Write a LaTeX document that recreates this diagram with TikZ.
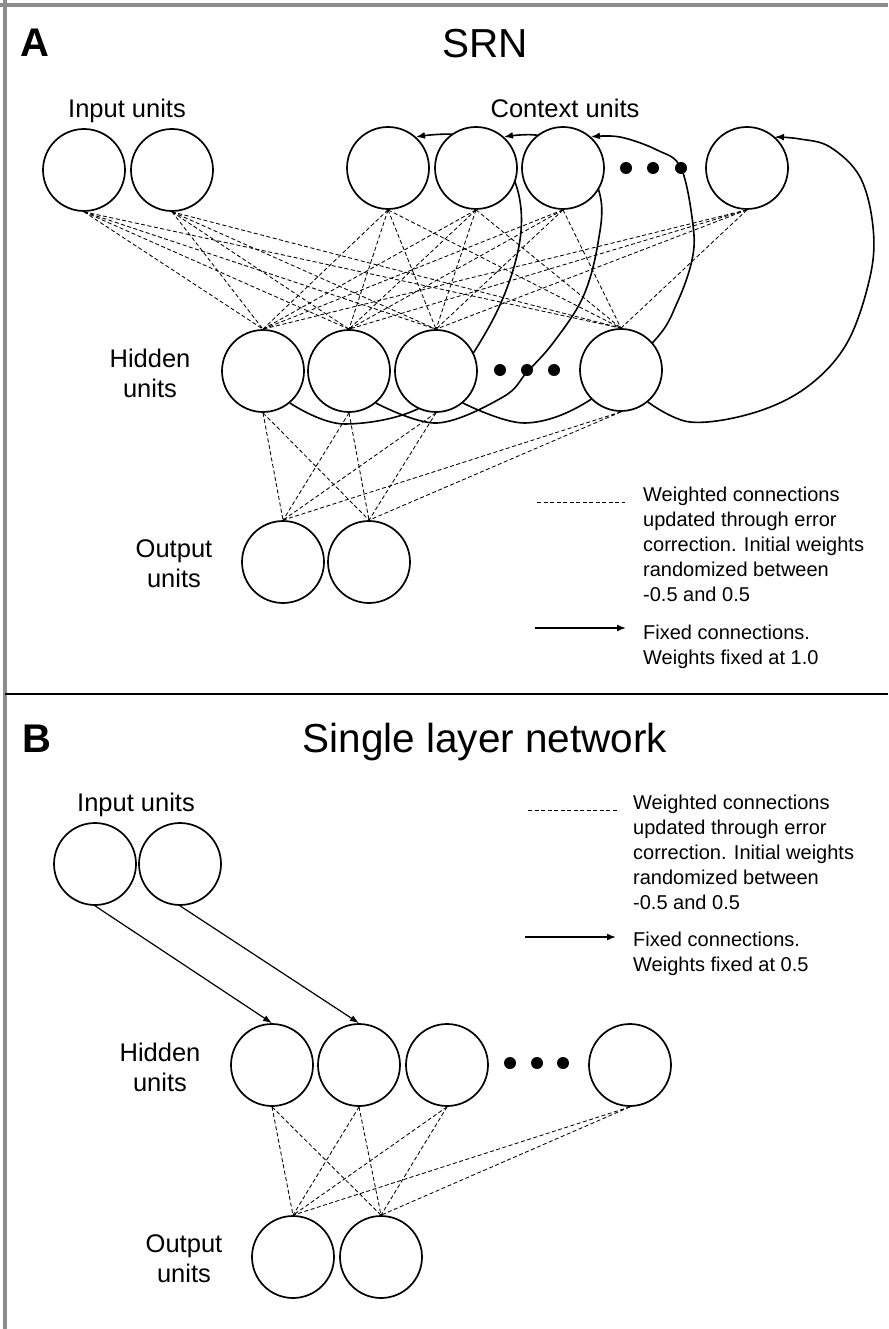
\documentclass[tikz,border=0pt]{standalone}
\usepackage{fontspec}
\setmainfont{Liberation Sans}
\usetikzlibrary{arrows.meta}
\pgfdeclarelayer{bg}
\pgfsetlayers{bg,main}
\begin{document}
\begin{tikzpicture}[x=1pt,y=-1pt,
  unit/.style={circle, draw, line width=1.7pt, minimum size=82pt, inner sep=0pt, fill=white},
  wconn/.style={line width=0.85pt, dash pattern=on 4pt off 2.5pt},
  fixed/.style={line width=1.6pt, -{Latex[length=9pt,width=7pt]}},
  fixedthin/.style={line width=1.2pt, -{Latex[length=9pt,width=6.5pt]}},
  lbl/.style={font=\fontsize{25.5}{30}\selectfont, align=center, inner sep=0pt},
  legendtext/.style={font=\fontsize{20}{25}\selectfont, align=left, anchor=north west, inner sep=0pt},
  titletext/.style={font=\fontsize{40.5}{46}\selectfont, inner sep=0pt, anchor=base},
  paneltag/.style={font=\bfseries\fontsize{40}{44}\selectfont, inner sep=0pt, anchor=base west},
  blob/.style={circle, fill, inner sep=0pt, minimum size=12pt}
]
\useasboundingbox (0,0) rectangle (888,1329);
\begin{pgfonlayer}{bg}
  \fill[white] (0,0) rectangle (888,1329);
\end{pgfonlayer}
% frame
\draw[line width=3.5pt, black!45] (0,5) -- (888,5);
\draw[line width=3.5pt, black!45] (5,0) -- (5,1329);
\draw[line width=1.8pt] (5,694) -- (888,694);

% ---------------- Panel A ----------------
\node[paneltag] (tagA) at (20,57) {A};
\node[titletext] (titleA) at (485,58) {SRN};
\node[lbl, anchor=base] (lInA) at (127,118) {Input units};
\node[lbl, anchor=base] (lCtxA) at (565,118) {Context units};
\node[lbl] (lHidA) at (150,373) {Hidden\\units};
\node[lbl] (lOutA) at (174,564) {Output\\units};

\node[unit] (ai1) at (84,170) {};
\node[unit] (ai2) at (172,170) {};
\node[unit] (ac1) at (388,168) {};
\node[unit] (ac2) at (476,168) {};
\node[unit] (ac3) at (563,168) {};
\node[unit] (ac4) at (747,168) {};
\node[blob] (acd1) at (626,168) {};
\node[blob] (acd2) at (653,168) {};
\node[blob] (acd3) at (681,168) {};

\node[unit] (ah1) at (263,371) {};
\node[unit] (ah2) at (349,371) {};
\node[unit] (ah3) at (436,371) {};
\node[unit] (ah4) at (621,370) {};
\node[blob] (ahd1) at (500,370) {};
\node[blob] (ahd2) at (527,370) {};
\node[blob] (ahd3) at (554,370) {};

\node[unit] (ao1) at (283,562) {};
\node[unit] (ao2) at (369,562) {};

% legend A
\coordinate (lgAd1) at (537,502);
\coordinate (lgAd2) at (625,502);
\draw[wconn] (lgAd1) -- (lgAd2);
\node[legendtext] (lgAt1) at (643,487) {Weighted connections\\updated through error\\correction. Initial weights\\randomized between\\-0.5 and 0.5};
\coordinate (lgAa1) at (535,628);
\coordinate (lgAa2) at (626,628);
\draw[fixed] (lgAa1) -- (lgAa2);
\node[legendtext] (lgAt2) at (643,625) {Fixed connections.\\Weights fixed at 1.0};

\begin{pgfonlayer}{bg}
  \foreach \s in {ai1,ai2,ac1,ac2,ac3,ac4}
    \foreach \t in {ah1,ah2,ah3,ah4}
      \draw[wconn] (\s.south) -- (\t.north);
  \foreach \s in {ah1,ah2,ah3,ah4}
    \foreach \t in {ao1,ao2}
      \draw[wconn] (\s.south) -- (\t.north);
  \draw[fixed] plot[smooth, tension=0.6] coordinates {(ah1.-50) (345,424) (430,402) (490,325) (520,240) (512,175) (470,137) (ac1.48)};
  \draw[fixed] plot[smooth, tension=0.6] coordinates {(ah2.-50) (437,423) (503,397) (527,372) (553,343) (583,297) (598,243) (600,195) (575,145) (535,135) (ac2.48)};
  \draw[fixed] plot[smooth, tension=0.6] coordinates {(ah3.-50) (525,423) (590,400) (655,340) (677,303) (692,260) (693,225) (681,168) (657,150) (620,137) (ac3.48)};
  \draw[fixed] plot[smooth, tension=0.6] coordinates {(ah4.-50) (690,422) (753,413) (807,387) (847,343) (870,277) (873,227) (860,177) (830,147) (800,139) (ac4.48)};
\end{pgfonlayer}

% ---------------- Panel B ----------------
\node[paneltag] (tagB) at (22,752) {B};
\node[titletext] (titleB) at (485,752) {Single layer network};
\node[lbl, anchor=base] (lInB) at (136,811) {Input units};
\node[lbl] (lHidB) at (160,1067) {Hidden\\units};
\node[lbl] (lOutB) at (184,1259) {Output\\units};

\node[unit] (bi1) at (95,864) {};
\node[unit] (bi2) at (180,864) {};

\node[unit] (bh1) at (272,1065) {};
\node[unit] (bh2) at (359,1065) {};
\node[unit] (bh3) at (447,1065) {};
\node[unit] (bh4) at (630,1065) {};
\node[blob] (bhd1) at (510,1063) {};
\node[blob] (bhd2) at (537,1063) {};
\node[blob] (bhd3) at (563,1063) {};

\node[unit] (bo1) at (293,1257) {};
\node[unit] (bo2) at (381,1257) {};

% legend B
\coordinate (lgBd1) at (528,810);
\coordinate (lgBd2) at (617,810);
\draw[wconn] (lgBd1) -- (lgBd2);
\node[legendtext] (lgBt1) at (633,795) {Weighted connections\\updated through error\\correction. Initial weights\\randomized between\\-0.5 and 0.5};
\coordinate (lgBa1) at (525,937);
\coordinate (lgBa2) at (616,937);
\draw[fixed] (lgBa1) -- (lgBa2);
\node[legendtext] (lgBt2) at (633,932) {Fixed connections.\\Weights fixed at 0.5};

\begin{pgfonlayer}{bg}
  \draw[fixedthin] (bi1.south) -- (bh1.north);
  \draw[fixedthin] (bi2.south) -- (bh2.north);
  \foreach \s in {bh1,bh2,bh3,bh4}
    \foreach \t in {bo1,bo2}
      \draw[wconn] (\s.south) -- (\t.north);
\end{pgfonlayer}
\end{tikzpicture}
\end{document}
